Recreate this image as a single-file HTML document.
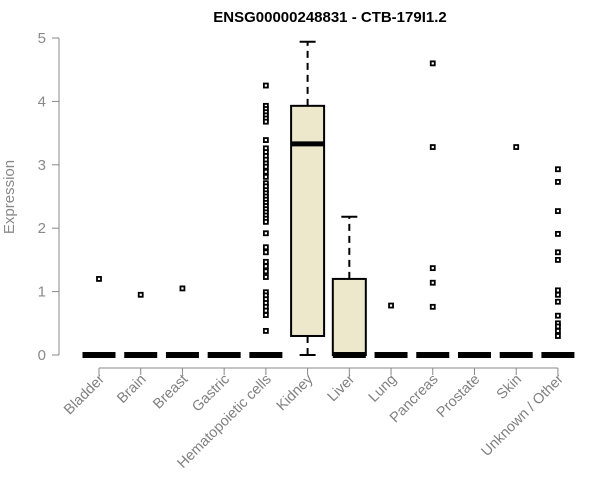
<!DOCTYPE html>
<html><head><meta charset="utf-8"><style>
html,body{margin:0;padding:0;background:#fff;}
svg{display:block;font-family:"Liberation Sans",Arial,sans-serif;}
</style></head><body>
<svg id="chart" width="600" height="500" viewBox="0 0 600 500">
<text x="330" y="22" text-anchor="middle" font-size="15" font-weight="bold" fill="#000">ENSG00000248831 - CTB-179I1.2</text>
<text transform="translate(14,197) rotate(-90)" text-anchor="middle" font-size="15" fill="#8a8a8a">Expression</text>
<g id="yaxis"></g>
<g id="xaxis"></g>
<g id="marks"></g>
</svg>
<script>
const categories = ["Bladder","Brain","Breast","Gastric","Hematopoietic cells","Kidney","Liver","Lung","Pancreas","Prostate","Skin","Unknown / Other"];
const q1Values = [0,0,0,0,0,0.30,0,0,0,0,0,0];
const medianValues = [0,0,0,0,0,3.33,0,0,0,0,0,0];
const q3Values = [0,0,0,0,0,3.93,1.20,0,0,0,0,0];
const whiskerLow = [0,0,0,0,0,0,0,0,0,0,0,0];
const whiskerHigh = [0,0,0,0,0,4.94,2.18,0,0,0,0,0];
const outliers = [
 [1.2],[0.95],[1.05],[],
 [4.25,3.93,3.88,3.83,3.78,3.73,3.68,3.39,3.26,3.2,3.14,3.08,3.02,2.97,2.89,2.81,2.71,2.66,2.6,2.55,2.5,2.45,2.4,2.35,2.3,2.25,2.2,2.15,2.1,1.92,1.7,1.62,1.47,1.4,1.32,1.23,0.99,0.94,0.88,0.82,0.76,0.7,0.63,0.38],
 [],[],[0.78],[4.6,3.28,1.37,1.14,0.76],[],[3.28],
 [2.93,2.73,2.27,1.91,1.62,1.5,1.02,0.95,0.84,0.62,0.5,0.45,0.38,0.3]
];
const yTicks = [0,1,2,3,4,5];
const NS="http://www.w3.org/2000/svg";
const y = v => 355 - v*63.4;
const x = i => 99 + i*41.72;
const hw = 16.5;
function mk(tag, attrs, parent){const e=document.createElementNS(NS,tag);for(const k in attrs)e.setAttribute(k,attrs[k]);parent.appendChild(e);return e;}
const ya=document.getElementById('yaxis'), xa=document.getElementById('xaxis'), mg=document.getElementById('marks');
mk('line',{x1:59,x2:59,y1:y(0),y2:y(5),stroke:'#888','stroke-width':1},ya);
yTicks.forEach(t=>{
 mk('line',{x1:52,x2:59,y1:y(t),y2:y(t),stroke:'#888'},ya);
 const tx=mk('text',{x:46,y:y(t)+5,'text-anchor':'end','font-size':15,fill:'#8a8a8a'},ya);
 tx.textContent=t;
 
 
});
mk('line',{x1:x(0),x2:x(11),y1:368,y2:368,stroke:'#888'},xa);
categories.forEach((c,i)=>{
 mk('line',{x1:x(i),x2:x(i),y1:368,y2:375,stroke:'#888'},xa);
 const tx=mk('text',{transform:`translate(${x(i)+6},380) rotate(-45)`,'text-anchor':'end','font-size':14.5,fill:'#808080'},xa);
 tx.textContent=c;
 
 
});
categories.forEach((c,i)=>{
 const g=mk('g',{},mg);
 
 
 const cx=x(i);
 if(q3Values[i]>q1Values[i]){
  if(whiskerHigh[i]>q3Values[i]){
   mk('line',{x1:cx,x2:cx,y1:y(q3Values[i]),y2:y(whiskerHigh[i]),stroke:'#000','stroke-width':2,'stroke-dasharray':'7,5'},g);
   mk('line',{x1:cx-8,x2:cx+8,y1:y(whiskerHigh[i]),y2:y(whiskerHigh[i]),stroke:'#000','stroke-width':2},g);
  }
  if(q1Values[i]>whiskerLow[i]){
   mk('line',{x1:cx,x2:cx,y1:y(q1Values[i]),y2:y(whiskerLow[i]),stroke:'#000','stroke-width':2,'stroke-dasharray':'7,5'},g);
   mk('line',{x1:cx-8,x2:cx+8,y1:y(whiskerLow[i]),y2:y(whiskerLow[i]),stroke:'#000','stroke-width':2},g);
  }
  mk('rect',{x:cx-hw,y:y(q3Values[i]),width:hw*2,height:y(q1Values[i])-y(q3Values[i]),fill:'#ede7cc',stroke:'#000','stroke-width':2},g);
 }
 mk('line',{x1:cx-hw,x2:cx+hw,y1:y(medianValues[i]),y2:y(medianValues[i]),stroke:'#000','stroke-width':medianValues[i]===0?6:5},g);
 outliers[i].forEach(v=>{
  const r=mk('rect',{x:cx-2,y:y(v)-2,width:4,height:4,fill:'#fff',stroke:'#000','stroke-width':1.8},g);
  
  
 });
});
</script>
</body></html>
